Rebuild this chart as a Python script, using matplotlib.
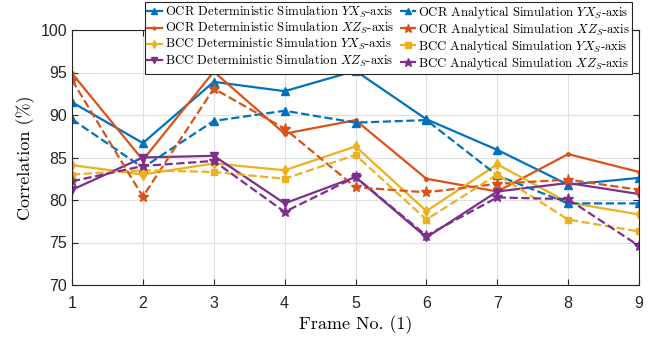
import matplotlib
matplotlib.use("Agg")
import matplotlib.pyplot as plt

plt.rcParams['mathtext.fontset'] = 'cm'
plt.rcParams['axes.unicode_minus'] = False

frames = [1, 2, 3, 4, 5, 6, 7, 8, 9]

ocr_det_yx = [91.5, 86.7, 93.9, 92.8, 95.2, 89.5, 85.9, 81.8, 82.6]
ocr_ana_yx = [89.5, 83.8, 89.3, 90.5, 89.1, 89.4, 82.9, 79.6, 79.6]
ocr_det_xz = [94.9, 84.7, 95.1, 87.8, 89.4, 82.5, 81.0, 85.4, 83.3]
ocr_ana_xz = [94.1, 80.4, 93.1, 88.4, 81.5, 80.9, 81.9, 82.4, 81.2]
bcc_det_yx = [84.1, 83.0, 84.3, 83.5, 86.3, 78.7, 84.2, 79.7, 78.3]
bcc_ana_yx = [83.0, 83.5, 83.3, 82.5, 85.3, 77.7, 83.0, 77.7, 76.3]
bcc_det_xz = [81.2, 85.0, 85.2, 79.6, 82.7, 75.6, 81.0, 82.0, 80.7]
bcc_ana_xz = [82.2, 84.0, 84.6, 78.6, 82.7, 75.8, 80.3, 80.1, 74.6]

blue, orange, yellow, purple = '#0072BD', '#D95319', '#EDB120', '#7E2F8E'

fig = plt.figure(figsize=(6.48, 3.37), dpi=100)
ax = fig.add_axes([72 / 648, 1 - 285 / 337, 567 / 648, 255 / 337])

# order matches the legend's column-wise layout
series = [
    (ocr_det_yx, blue, '-', '^', 6, r'OCR Deterministic Simulation $YX_S$-axis'),
    (ocr_det_xz, orange, '-', '.', 5, r'OCR Deterministic Simulation $XZ_S$-axis'),
    (bcc_det_yx, yellow, '-', 'd', 5, r'BCC Deterministic Simulation $YX_S$-axis'),
    (bcc_det_xz, purple, '-', 'v', 6, r'BCC Deterministic Simulation $XZ_S$-axis'),
    (ocr_ana_yx, blue, '--', '^', 6, r'OCR Analytical Simulation $YX_S$-axis'),
    (ocr_ana_xz, orange, '--', '*', 8, r'OCR Analytical Simulation $XZ_S$-axis'),
    (bcc_ana_yx, yellow, '--', 's', 5, r'BCC Analytical Simulation $YX_S$-axis'),
    (bcc_ana_xz, purple, '--', '*', 8, r'BCC Analytical Simulation $XZ_S$-axis'),
]
for vals, c, ls, mk, ms, lab in series:
    ax.plot(frames, vals, color=c, linestyle=ls, marker=mk, markersize=ms,
            linewidth=1.6, label=lab)

ax.set_xlim(1, 9)
ax.set_ylim(70, 100)
ax.set_xticks(frames)
ax.set_yticks([70, 75, 80, 85, 90, 95, 100])
ax.grid(True, color='#e0e0e0', linewidth=0.8)
ax.set_axisbelow(True)
ax.tick_params(direction='in', top=True, right=True, labelsize=11.5, length=4,
               color='#262626', labelcolor='#262626')
ax.tick_params(axis='x', pad=8)
for lbl in ax.get_xticklabels() + ax.get_yticklabels():
    lbl.set_family('Liberation Sans')
for sp in ax.spines.values():
    sp.set_color('#262626')
    sp.set_linewidth(0.8)

ax.set_xlabel('Frame No. (1)', family='cmr10', fontsize=13, labelpad=3)
ax.set_ylabel('Correlation (%)', family='cmr10', fontsize=13, labelpad=4)

leg = ax.legend(ncol=2, loc='upper right', bbox_to_anchor=(632 / 648, 1 - 2 / 337),
                bbox_transform=fig.transFigure, prop={'family': 'cmr10', 'size': 9.2},
                handlelength=1.2, handletextpad=0.2, columnspacing=0.5,
                labelspacing=0.0, borderpad=0.15, borderaxespad=0, fancybox=False,
                edgecolor='#262626', framealpha=1, markerscale=0.8)
leg.get_frame().set_linewidth(0.8)

fig.savefig('out.png', dpi=100)
